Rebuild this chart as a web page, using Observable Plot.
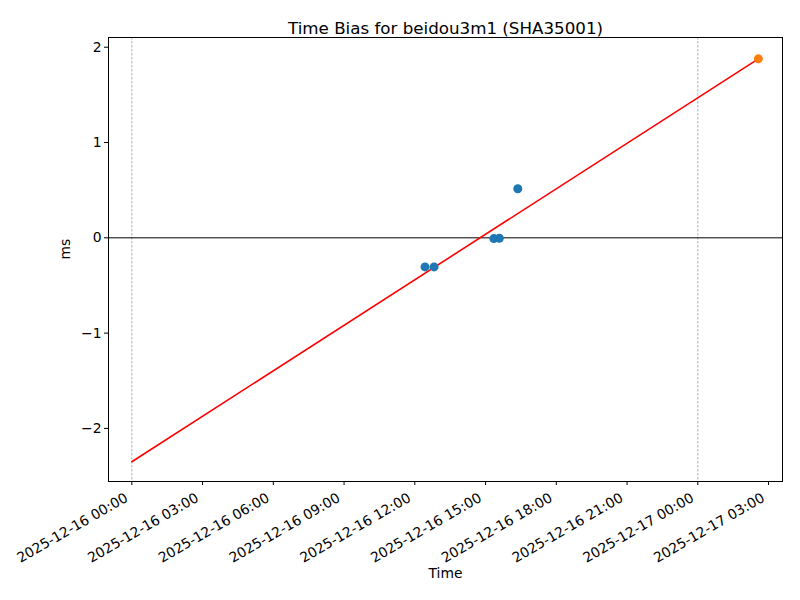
<!DOCTYPE html>
<html>
<head>
<meta charset="utf-8">
<script src="https://cdn.jsdelivr.net/npm/d3@7"></script>
<script src="https://cdn.jsdelivr.net/npm/@observablehq/plot@0.6"></script>
<style>
  html, body { margin: 0; padding: 0; background: #fff; }
  #chart svg { display: block; }
</style>
</head>
<body>
<div id="chart"></div>
<script>
// Measured time-bias samples (UTC)
const sampleTimes = ["2025-12-16T12:26:00Z", "2025-12-16T12:49:00Z", "2025-12-16T15:21:00Z", "2025-12-16T15:35:00Z", "2025-12-16T16:22:00Z"];
const sampleValues = [-0.305, -0.305, -0.008, -0.005, 0.515];

// Predicted point
const predTimes = ["2025-12-17T02:34:00Z"];
const predValues = [1.878];

// Fitted trend line endpoints
const fitTimes = ["2025-12-16T00:00:00Z", "2025-12-17T02:34:00Z"];
const fitValues = [-2.35, 1.878];

// Day boundaries
const dayLines = ["2025-12-16T00:00:00Z", "2025-12-17T00:00:00Z"];

// Axis ticks
const xTicks = ["2025-12-16T00:00:00Z", "2025-12-16T03:00:00Z", "2025-12-16T06:00:00Z", "2025-12-16T09:00:00Z",
  "2025-12-16T12:00:00Z", "2025-12-16T15:00:00Z", "2025-12-16T18:00:00Z", "2025-12-16T21:00:00Z",
  "2025-12-17T00:00:00Z", "2025-12-17T03:00:00Z"];
const yTicks = [-2, -1, 0, 1, 2];
const xDomain = ["2025-12-15T23:00:40Z", "2025-12-17T03:35:30Z"];
const yDomain = [-2.557, 2.102];

const titleText = "Time Bias for beidou3m1 (SHA35001)";

const samples = sampleTimes.map((t, i) => ({t: new Date(t), v: sampleValues[i]}));
const preds = predTimes.map((t, i) => ({t: new Date(t), v: predValues[i]}));
const fit = fitTimes.map((t, i) => ({t: new Date(t), v: fitValues[i]}));
const tickDates = xTicks.map(d => new Date(d));
const fmt = d3.utcFormat("%Y-%m-%d %H:%M");

const chart = Plot.plot({
  width: 800,
  height: 600,
  marginLeft: 108,
  marginRight: 18,
  marginTop: 37,
  marginBottom: 119,
  style: {fontFamily: "DejaVu Sans", fontSize: "13.9px", color: "#000", background: "#fff"},
  x: {type: "utc", domain: xDomain.map(d => new Date(d))},
  y: {domain: yDomain},
  marks: [
    Plot.ruleX(dayLines.map(d => new Date(d)), {stroke: "#5f7f9f", strokeWidth: 0.6, strokeDasharray: "2.5,1.5"}),
    Plot.ruleY([0], {stroke: "#000", strokeWidth: 1}),
    Plot.line(fit, {x: "t", y: "v", stroke: "#ff0000", strokeWidth: 1.6}),
    Plot.dot(samples, {x: "t", y: "v", r: 4.5, fill: "#1f77b4", stroke: "none"}),
    Plot.dot(preds, {x: "t", y: "v", r: 4.5, fill: "#ff7f0e", stroke: "none"}),
    Plot.frame({stroke: "#000", strokeWidth: 1}),
    Plot.axisX({ticks: tickDates, tickFormat: () => "", tickSize: 4, label: null}),
    Plot.text(tickDates, {
      x: d => d, text: d => fmt(d), frameAnchor: "bottom", rotate: -30,
      textAnchor: "end", dx: -3, dy: 19, fontSize: 13.9, fill: "#000"
    }),
    Plot.axisY({ticks: yTicks, tickSize: 4, tickPadding: 3, label: null, tickFormat: d => d3.format("d")(d).replace("-", "\u2212")}),
    Plot.text([titleText], {frameAnchor: "top", dy: -15, fontSize: 16.7, fill: "#000"}),
    Plot.text(["Time"], {frameAnchor: "bottom", dy: 96, fontSize: 13.9, fill: "#000"}),
    Plot.text(["ms"], {frameAnchor: "left", dx: -43, rotate: -90, fontSize: 13.9, fill: "#000"})
  ]
});
document.getElementById("chart").append(chart);
</script>
</body>
</html>
